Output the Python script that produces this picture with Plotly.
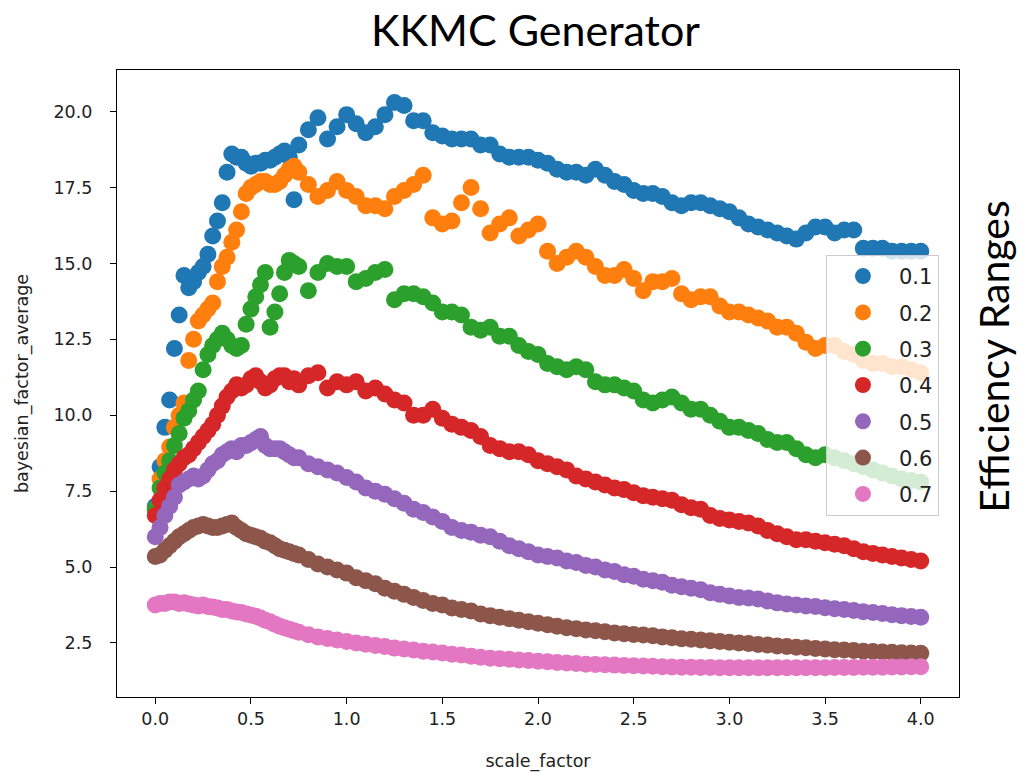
import plotly.graph_objects as go

scale_factor = [
    0.0, 0.025, 0.05, 0.075, 0.1, 0.125, 0.15, 0.175, 0.2, 0.225,
    0.25, 0.275, 0.3, 0.325, 0.35, 0.375, 0.4, 0.425, 0.45, 0.475,
    0.5, 0.525, 0.55, 0.575, 0.6, 0.625, 0.65, 0.675, 0.7, 0.725,
    0.75,
    0.8, 0.85, 0.9, 0.95, 1.0, 1.05, 1.1, 1.15, 1.2, 1.25,
    1.3, 1.35, 1.4, 1.45, 1.5, 1.55, 1.6, 1.65, 1.7, 1.75,
    1.8, 1.85, 1.9, 1.95, 2.0, 2.05, 2.1, 2.15, 2.2, 2.25,
    2.3, 2.35, 2.4, 2.45, 2.5, 2.55, 2.6, 2.65, 2.7, 2.75,
    2.8, 2.85, 2.9, 2.95, 3.0, 3.05, 3.1, 3.15, 3.2, 3.25,
    3.3, 3.35, 3.4, 3.45, 3.5, 3.55, 3.6, 3.65, 3.7, 3.75,
    3.8, 3.85, 3.9, 3.95, 4.0,
]

eff_01 = [
    7.0, 8.3, 9.6, 10.5, 12.2, 13.3, 14.6, 14.2, 14.4, 14.7,
    14.9, 15.3, 15.9, 16.4, 17.0, 18.0, 18.6, 18.5, 18.5, 18.3,
    18.2, 18.3, 18.3, 18.4, 18.4, 18.5, 18.6, 18.7, 18.5, 17.1,
    18.9,
    19.4, 19.8, 19.1, 19.5, 19.9, 19.6, 19.3, 19.5, 19.9, 20.3,
    20.2, 19.7, 19.7, 19.3, 19.2, 19.1, 19.1, 19.1, 18.9, 18.9,
    18.6, 18.5, 18.5, 18.5, 18.4, 18.3, 18.1, 18.0, 18.0, 17.9,
    18.1, 17.9, 17.7, 17.6, 17.4, 17.3, 17.3, 17.2, 17.0, 16.9,
    17.0, 17.0, 16.9, 16.8, 16.7, 16.5, 16.3, 16.2, 16.1, 16.0,
    15.9, 15.8, 16.0, 16.2, 16.2, 16.0, 16.1, 16.1, 15.5, 15.5,
    15.5, 15.4, 15.4, 15.4, 15.4,
]

eff_02 = [
    6.9, 7.9, 8.5, 8.95, 9.6, 10.0, 10.4, 11.8, 12.5, 13.1,
    13.3, 13.5, 13.7, 14.4, 14.9, 15.2, 15.7, 16.1, 16.7, 17.3,
    17.5, 17.6, 17.7, 17.7, 17.6, 17.6, 17.7, 17.9, 18.1, 18.2,
    18.0,
    17.6, 17.2, 17.4, 17.7, 17.4, 17.2, 16.9, 16.9, 16.8, 17.2,
    17.4, 17.6, 17.9, 16.5, 16.3, 16.4, 17.0, 17.5, 16.8, 16.0,
    16.3, 16.5, 15.9, 16.1, 16.3, 15.4, 15.0, 15.2, 15.4, 15.2,
    14.9, 14.6, 14.6, 14.8, 14.5, 14.1, 14.4, 14.4, 14.5, 14.0,
    13.8, 13.9, 13.9, 13.6, 13.4, 13.4, 13.3, 13.2, 13.1, 12.9,
    12.9, 12.7, 12.4, 12.2, 12.3, 12.3, 12.1, 12.0, 11.8, 11.7,
    11.7, 11.6, 11.6, 11.5, 11.4,
]

eff_03 = [
    6.9, 7.6, 8.1, 8.5, 9.0, 9.4, 9.9, 10.15, 10.5, 10.8,
    11.5, 12.0, 12.3, 12.5, 12.7, 12.5, 12.3, 12.2, 12.3, 13.0,
    13.5, 13.9, 14.3, 14.7, 12.9, 13.4, 14.0, 14.7, 15.1, 15.0,
    14.9,
    14.1, 14.7, 15.0, 14.9, 14.9, 14.4, 14.5, 14.7, 14.8, 13.8,
    14.0, 14.0, 13.9, 13.7, 13.4, 13.4, 13.3, 12.9, 12.8, 12.9,
    12.6, 12.6, 12.3, 12.1, 12.0, 11.7, 11.6, 11.5, 11.6, 11.5,
    11.1, 11.0, 11.0, 10.9, 10.8, 10.5, 10.4, 10.5, 10.6, 10.4,
    10.2, 10.2, 10.0, 9.8, 9.6, 9.6, 9.5, 9.4, 9.2, 9.1,
    9.1, 8.9, 8.7, 8.6, 8.7, 8.6, 8.5, 8.4, 8.3, 8.2,
    8.1, 8.0, 7.9, 7.85, 7.8,
]

eff_04 = [
    6.7, 7.2, 7.6, 7.9, 8.2, 8.4, 8.6, 8.7, 8.9, 9.1,
    9.3, 9.5, 9.7, 10.0, 10.3, 10.6, 10.8, 11.0, 10.9, 11.0,
    11.2, 11.3, 11.1, 10.9, 11.0, 11.2, 11.3, 11.3, 11.1, 11.2,
    11.0,
    11.3, 11.4, 10.9, 11.1, 11.0, 11.1, 10.8, 10.9, 10.7, 10.5,
    10.4, 10.0, 10.0, 10.2, 9.9, 9.7, 9.6, 9.5, 9.3, 9.0,
    8.9, 8.8, 8.8, 8.7, 8.5, 8.4, 8.3, 8.2, 8.0, 7.9,
    7.8, 7.7, 7.6, 7.55, 7.45, 7.35, 7.3, 7.25, 7.2, 7.05,
    6.95, 6.9, 6.7, 6.6, 6.55, 6.5, 6.45, 6.35, 6.2, 6.1,
    6.0, 5.9, 5.9, 5.85, 5.8, 5.75, 5.7, 5.6, 5.5, 5.45,
    5.4, 5.35, 5.3, 5.25, 5.2,
]

eff_05 = [
    6.0, 6.3, 6.7, 7.0, 7.3, 7.7, 7.8, 7.9, 8.0, 7.9,
    8.0, 8.2, 8.4, 8.5, 8.7, 8.8, 8.9, 8.8, 9.0, 9.0,
    9.1, 9.2, 9.3, 9.0, 8.9, 8.9, 8.9, 8.8, 8.7, 8.6,
    8.6,
    8.4, 8.3, 8.2, 8.1, 7.95, 7.8, 7.6, 7.5, 7.4, 7.25,
    7.1, 6.9, 6.8, 6.65, 6.5, 6.3, 6.2, 6.15, 6.05, 6.0,
    5.85, 5.7, 5.6, 5.5, 5.4, 5.35, 5.3, 5.2, 5.15, 5.05,
    5.0, 4.9, 4.85, 4.75, 4.7, 4.6, 4.55, 4.5, 4.4, 4.35,
    4.3, 4.25, 4.15, 4.1, 4.05, 4.0, 3.98, 3.95, 3.88, 3.82,
    3.78, 3.75, 3.72, 3.7, 3.66, 3.63, 3.6, 3.57, 3.53, 3.5,
    3.47, 3.43, 3.4, 3.37, 3.35,
]

eff_06 = [
    5.35, 5.4, 5.55, 5.7, 5.85, 6.0, 6.1, 6.2, 6.3, 6.35,
    6.4, 6.35, 6.3, 6.3, 6.35, 6.4, 6.45, 6.3, 6.2, 6.1,
    6.05, 6.0, 5.95, 5.85, 5.8, 5.7, 5.6, 5.55, 5.5, 5.45,
    5.4,
    5.25, 5.1, 5.0, 4.9, 4.8, 4.65, 4.55, 4.45, 4.3, 4.2,
    4.1, 4.0, 3.9, 3.8, 3.75, 3.65, 3.6, 3.55, 3.45, 3.4,
    3.35, 3.3, 3.25, 3.2, 3.15, 3.1, 3.05, 3.0, 2.97, 2.93,
    2.9, 2.87, 2.83, 2.8, 2.78, 2.76, 2.74, 2.7, 2.67, 2.64,
    2.62, 2.6, 2.57, 2.55, 2.52, 2.5, 2.48, 2.45, 2.43, 2.4,
    2.38, 2.36, 2.34, 2.32, 2.3, 2.28, 2.27, 2.25, 2.23, 2.22,
    2.2, 2.19, 2.18, 2.17, 2.16,
]

eff_07 = [
    3.75, 3.8, 3.8, 3.85, 3.85, 3.8, 3.82, 3.78, 3.75, 3.72,
    3.75, 3.7, 3.68, 3.65, 3.6, 3.6, 3.55, 3.52, 3.5, 3.45,
    3.42, 3.38, 3.32, 3.25, 3.2, 3.12, 3.05, 3.0, 2.95, 2.9,
    2.85,
    2.77, 2.7, 2.65, 2.6, 2.55, 2.5, 2.46, 2.42, 2.38, 2.33,
    2.3, 2.27, 2.23, 2.2, 2.17, 2.13, 2.1, 2.06, 2.03, 2.0,
    1.98, 1.96, 1.94, 1.92, 1.9, 1.88, 1.86, 1.84, 1.82, 1.8,
    1.79, 1.78, 1.77, 1.76, 1.75, 1.74, 1.73, 1.72, 1.71, 1.7,
    1.7, 1.69, 1.69, 1.68, 1.68, 1.68, 1.68, 1.68, 1.68, 1.68,
    1.68, 1.68, 1.68, 1.68, 1.68, 1.69, 1.69, 1.69, 1.7, 1.7,
    1.7, 1.71, 1.71, 1.72, 1.72,
]

series_names = ["0.1", "0.2", "0.3", "0.4", "0.5", "0.6", "0.7"]
series_values = [eff_01, eff_02, eff_03, eff_04, eff_05, eff_06, eff_07]
colors = ["#1f77b4", "#ff7f0e", "#2ca02c", "#d62728", "#9467bd", "#8c564b", "#e377c2"]

x_ticks = [0.0, 0.5, 1.0, 1.5, 2.0, 2.5, 3.0, 3.5, 4.0]
y_ticks = [2.5, 5.0, 7.5, 10.0, 12.5, 15.0, 17.5, 20.0]

fig = go.Figure()
for name, vals, col in zip(series_names, series_values, colors):
    fig.add_trace(go.Scatter(
        x=scale_factor, y=vals, mode="markers", name=name,
        legendgroup=name,
        marker=dict(color=col, size=17, line=dict(width=0)),
    ))

axis_font = dict(family="DejaVu Sans", size=17.5, color="#222222")
fig.update_layout(
    width=1020, height=772,
    margin=dict(l=117, r=61, t=70, b=75),
    paper_bgcolor="white", plot_bgcolor="white",
    showlegend=True,
    legend=dict(
        x=0.842, y=0.705, xanchor="left", yanchor="top",
        bgcolor="rgba(255,255,255,0.8)", bordercolor="#cccccc", borderwidth=1,
        font=dict(family="DejaVu Sans", size=21, color="#222222"),
        tracegroupgap=6, itemwidth=62,
    ),
    xaxis=dict(
        range=[-0.2, 4.2], tickvals=x_ticks, tickformat=".1f",
        showline=True, mirror=True, linecolor="black", linewidth=1.3,
        ticks="outside", ticklen=6, tickwidth=1.3, tickcolor="black",
        showgrid=False, zeroline=False, tickfont=axis_font, automargin=False,
        title=dict(text="scale_factor", font=axis_font, standoff=27),
    ),
    yaxis=dict(
        range=[0.72, 21.37], tickvals=y_ticks, tickformat=".1f",
        showline=True, mirror=True, linecolor="black", linewidth=1.3,
        ticks="outside", ticklen=6, tickwidth=1.3, tickcolor="black",
        ticklabelstandoff=14, automargin=False,
        showgrid=False, zeroline=False, tickfont=axis_font,
        title=dict(text="bayesian_factor_average", font=axis_font, standoff=20),
    ),
    annotations=[
        dict(text="KKMC Generator", xref="paper", yref="paper",
             x=0.4976, y=1.0638, xanchor="center", yanchor="middle",
             showarrow=False, font=dict(family="Lato", size=43, color="black")),
        dict(text="Efficiency Ranges", xref="paper", yref="paper",
             x=1.041, y=0.542, xanchor="center", yanchor="middle",
             textangle=-90, showarrow=False,
             font=dict(family="Lato", size=41, color="black")),
    ],
)

fig.write_html("out.html")
